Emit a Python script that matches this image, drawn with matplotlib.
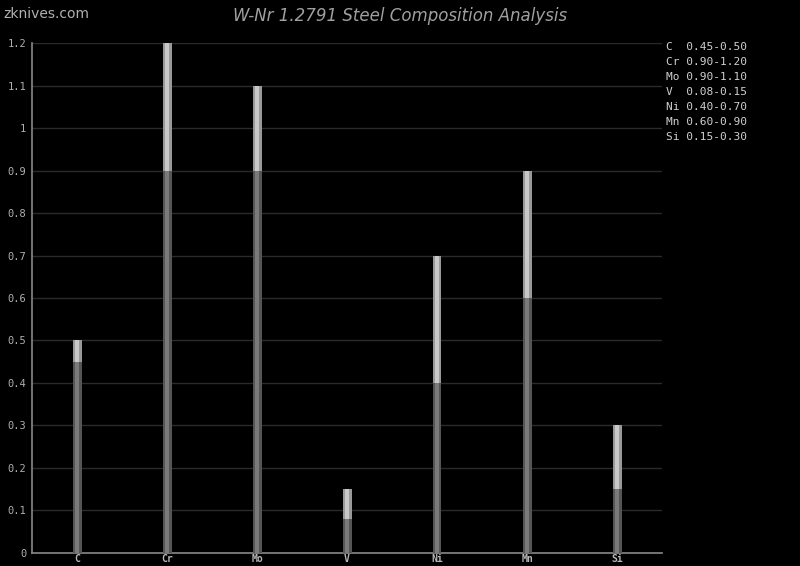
import numpy as np
import matplotlib
matplotlib.use('Agg')
import matplotlib.pyplot as plot

elements = ['C', 'Cr', 'Mo', 'V', 'Ni', 'Mn', 'Si']
min_pct = [0.45, 0.90, 0.90, 0.08, 0.40, 0.60, 0.15]
max_pct = [0.50, 1.20, 1.10, 0.15, 0.70, 0.90, 0.30]
yticks = [0, 0.1, 0.2, 0.3, 0.4, 0.5, 0.6, 0.7, 0.8, 0.9, 1, 1.1, 1.2]

mono = 'DejaVu Sans Mono'
x = np.arange(len(elements))
width = 0.1
spread = [hi - lo for lo, hi in zip(min_pct, max_pct)]

figure = plot.figure(figsize=(8, 5.66), dpi=100, facecolor='black')
ax = figure.add_axes([0.04, 0.023, 0.7875, 0.901])
ax.set_facecolor('black')

# cylinder-ish bars: dark edge, lighter middle
ax.bar(x, min_pct, width, color='#555555', zorder=3)
ax.bar(x, min_pct, width * 0.5, color='#7a7a7a', zorder=4)
ax.bar(x, spread, width, bottom=min_pct, color='#999999', zorder=3)
ax.bar(x, spread, width * 0.5, bottom=min_pct, color='#c8c8c8', zorder=4)

ax.set_xlim(-0.5, 6.5)
ax.set_ylim(0, 1.2)
ax.set_yticks(yticks)
ax.set_yticklabels(['%g' % v for v in yticks], fontfamily=mono, fontsize=7.5, color='#b0b0b0')
ax.set_xticks(x)
ax.set_xticklabels(elements, fontfamily=mono, fontsize=7, color='#b8b8b8', fontweight='bold')
ax.tick_params(axis='y', length=0, pad=4)
ax.tick_params(axis='x', length=0, pad=1)
ax.grid(axis='y', color='#2a2a2a', linewidth=1, zorder=0)
for side in ['top', 'right']:
    ax.spines[side].set_visible(False)
for side in ['left', 'bottom']:
    ax.spines[side].set_color('#888888')
    ax.spines[side].set_linewidth(1.2)

figure.text(0.5, 0.971, 'W-Nr 1.2791 Steel Composition Analysis', ha='center', va='center',
            fontsize=12, style='italic', color='#a0a0a0')
figure.text(0.004, 0.975, 'zknives.com', ha='left', va='center', fontsize=10, color='#b0b0b0')

for i, el in enumerate(elements):
    figure.text(0.833, 0.917 - i * 0.0265, '%-2s %.2f-%.2f' % (el, min_pct[i], max_pct[i]),
                fontfamily=mono, fontsize=8, color='#d0d0d0', va='center', ha='left')

plot.savefig('out.png', dpi=100, facecolor='black')
